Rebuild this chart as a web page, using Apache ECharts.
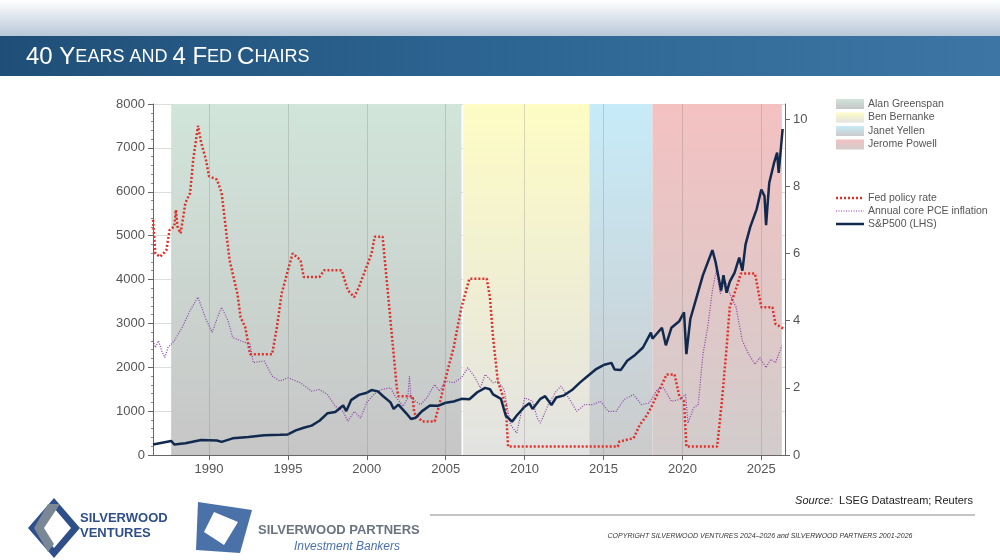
<!DOCTYPE html>
<html>
<head>
<meta charset="utf-8">
<script src="https://cdn.jsdelivr.net/npm/echarts@6/dist/echarts.min.js"></script>
<style>html,body{margin:0;padding:0;background:#fff}#main{width:1000px;height:560px}</style>
</head>
<body>
<div id="main"></div>
<script>
// 标普500（左轴）
const spx = [[1986.45,240],[1987.6,320],[1987.8,240],[1988.5,270],[1989.5,340],[1990.5,330],[1990.8,300],[1991.5,380],[1992.5,410],[1993.5,450],[1994.5,460],[1995.0,470],[1995.5,560],[1996.0,620],[1996.5,670],[1997.0,780],[1997.5,950],[1998.0,980],[1998.5,1130],[1998.7,1000],[1999.0,1250],[1999.5,1370],[2000.0,1420],[2000.3,1480],[2000.7,1450],[2001.0,1350],[2001.5,1200],[2001.7,1050],[2002.0,1150],[2002.5,950],[2002.8,820],[2003.1,850],[2003.5,1000],[2004.0,1130],[2004.5,1120],[2005.0,1190],[2005.5,1220],[2006.0,1280],[2006.5,1270],[2007.0,1430],[2007.5,1530],[2007.8,1500],[2008.0,1380],[2008.5,1280],[2008.8,900],[2009.2,760],[2009.5,900],[2010.0,1100],[2010.3,1180],[2010.5,1050],[2011.0,1280],[2011.3,1340],[2011.7,1140],[2012.0,1310],[2012.5,1360],[2013.0,1480],[2013.5,1650],[2014.0,1800],[2014.5,1950],[2015.0,2050],[2015.5,2100],[2015.7,1950],[2016.1,1940],[2016.5,2150],[2017.0,2280],[2017.5,2450],[2018.0,2790],[2018.1,2650],[2018.7,2900],[2018.95,2500],[2019.3,2900],[2019.8,3050],[2020.1,3250],[2020.25,2300],[2020.5,3100],[2020.9,3600],[2021.3,4100],[2021.9,4670],[2022.1,4400],[2022.45,3750],[2022.6,4100],[2022.8,3700],[2023.0,3950],[2023.3,4150],[2023.6,4500],[2023.8,4200],[2024.0,4800],[2024.3,5200],[2024.7,5600],[2025.0,6050],[2025.2,5900],[2025.3,5240],[2025.5,6200],[2025.8,6650],[2026.0,6890],[2026.1,6430],[2026.35,7430]]

// 联邦基金利率（右轴）
const fedRate = [[1986.45,7.0],[1986.6,6.0],[1986.9,5.9],[1987.3,6.1],[1987.5,6.7],[1987.8,6.8],[1987.9,7.3],[1988.0,6.8],[1988.2,6.6],[1988.5,7.5],[1988.8,7.8],[1989.0,8.8],[1989.3,9.8],[1989.5,9.3],[1989.8,8.8],[1990.0,8.3],[1990.5,8.2],[1990.8,7.8],[1991.0,7.0],[1991.3,5.8],[1991.8,4.8],[1992.0,4.1],[1992.3,3.8],[1992.6,3.0],[1994.0,3.0],[1994.3,3.8],[1994.6,4.8],[1995.0,5.5],[1995.3,6.0],[1995.8,5.8],[1996.0,5.3],[1997.0,5.3],[1997.3,5.5],[1998.4,5.5],[1998.8,4.9],[1999.2,4.7],[1999.5,5.0],[1999.9,5.5],[2000.3,6.0],[2000.5,6.5],[2001.0,6.5],[2001.2,5.5],[2001.5,4.0],[2001.9,2.0],[2002.0,1.75],[2002.9,1.75],[2003.0,1.25],[2003.5,1.0],[2004.3,1.0],[2004.6,1.5],[2005.0,2.3],[2005.5,3.2],[2006.0,4.4],[2006.5,5.25],[2007.6,5.25],[2007.8,4.7],[2008.0,3.5],[2008.3,2.2],[2008.8,1.5],[2008.95,0.25],[2015.9,0.25],[2016.0,0.4],[2016.9,0.5],[2017.3,0.9],[2017.7,1.15],[2018.0,1.4],[2018.5,1.9],[2019.0,2.4],[2019.5,2.4],[2019.8,1.75],[2020.1,1.6],[2020.25,0.25],[2022.2,0.25],[2022.5,1.6],[2022.8,3.2],[2023.0,4.4],[2023.5,5.1],[2023.7,5.4],[2024.6,5.4],[2024.8,4.9],[2025.0,4.4],[2025.7,4.4],[2025.9,3.9],[2026.45,3.75]]

// 核心PCE通胀（右轴）
const pce = [[1986.45,3.4],[1986.6,3.2],[1986.8,3.4],[1987.0,3.1],[1987.2,2.9],[1987.4,3.2],[1987.8,3.4],[1988.3,3.8],[1988.8,4.3],[1989.3,4.7],[1989.8,4.05],[1990.2,3.65],[1990.5,4.05],[1990.8,4.4],[1991.2,4.0],[1991.5,3.5],[1992.0,3.4],[1992.6,3.3],[1992.8,2.75],[1993.5,2.8],[1994.0,2.35],[1994.5,2.2],[1995.0,2.3],[1995.8,2.15],[1996.5,1.9],[1997.0,1.95],[1997.5,1.8],[1998.0,1.45],[1998.5,1.3],[1998.8,1.0],[1999.2,1.3],[1999.6,1.1],[2000.0,1.57],[2000.5,1.83],[2001.0,1.96],[2001.5,2.0],[2001.8,1.75],[2002.3,1.45],[2002.6,1.7],[2002.7,2.35],[2002.8,1.7],[2003.4,1.5],[2003.8,1.7],[2004.3,2.1],[2004.6,1.9],[2005.0,2.2],[2005.5,2.15],[2006.0,2.3],[2006.4,2.6],[2006.8,2.35],[2007.2,2.0],[2007.5,2.4],[2008.0,2.15],[2008.3,2.2],[2008.7,1.95],[2009.1,0.9],[2009.5,0.65],[2009.8,1.3],[2010.0,1.7],[2010.5,1.6],[2010.8,1.1],[2011.0,0.95],[2011.5,1.5],[2012.0,1.9],[2012.3,2.05],[2012.8,1.7],[2013.3,1.3],[2013.8,1.5],[2014.3,1.5],[2014.8,1.6],[2015.3,1.3],[2015.8,1.3],[2016.3,1.65],[2016.9,1.8],[2017.4,1.5],[2017.9,1.55],[2018.4,1.95],[2018.8,2.0],[2019.3,1.6],[2019.8,1.65],[2020.2,1.8],[2020.35,0.95],[2020.7,1.4],[2021.0,1.5],[2021.3,3.0],[2021.6,3.8],[2021.9,4.9],[2022.15,5.5],[2022.4,4.8],[2022.7,5.2],[2023.0,4.8],[2023.4,4.4],[2023.8,3.4],[2024.2,3.0],[2024.6,2.7],[2024.9,2.9],[2025.3,2.6],[2025.6,2.85],[2025.9,2.75],[2026.3,3.25]]

// 四任美联储主席任期
const chairs = [
  { name: 'Alan Greenspan', from: 1987.6, to: 2006.0, top: '#d1e5da', bottom: '#c6c6c6' },
  { name: 'Ben Bernanke', from: 2006.1, to: 2014.1, top: '#fefcc4', bottom: '#e2e2e2' },
  { name: 'Janet Yellen', from: 2014.1, to: 2018.1, top: '#c7ebf9', bottom: '#cbcbcb' },
  { name: 'Jerome Powell', from: 2018.1, to: 2026.3, top: '#f4c1c1', bottom: '#d2cccc' }
]

const grad = (a, b) => new echarts.graphic.LinearGradient(0, 0, 0, 1, [{ offset: 0, color: a }, { offset: 1, color: b }])
const years = [1990, 1995, 2000, 2005, 2010, 2015, 2020, 2025]
const RMAX = 8000 / 765.6

const chart = echarts.init(document.getElementById('main'))

const legendItems = []
chairs.forEach((c, i) => {
  legendItems.push({ type: 'rect', shape: { x: 836, y: 99 + i * 13.5, width: 28, height: 10 }, style: { fill: grad(c.top, c.bottom) } })
  legendItems.push({ type: 'text', style: { x: 868, y: 104 + i * 13.5, text: c.name, fill: '#555', font: '10.5px "Liberation Sans Narrow", Arial', verticalAlign: 'middle' } })
})
const lineLeg = [['Fed policy rate', '#e0302a', [2, 2], 2.5], ['Annual core PCE inflation', '#8a3fa8', [1, 1.5], 1.2], ['S&P500 (LHS)', '#12294f', null, 2.5]]
lineLeg.forEach((l, i) => {
  legendItems.push({ type: 'line', shape: { x1: 836, y1: 198 + i * 13, x2: 864, y2: 198 + i * 13 }, style: { stroke: l[1], lineWidth: l[3], lineDash: l[2] } })
  legendItems.push({ type: 'text', style: { x: 868, y: 198 + i * 13, text: l[0], fill: '#555', font: '10.5px "Liberation Sans Narrow", Arial', verticalAlign: 'middle' } })
})

const option = {
  animation: false,
  graphic: [
    { type: 'rect', shape: { x: 0, y: 0, width: 1000, height: 36 }, style: { fill: grad('#ffffff', '#b8c8d8') } },
    { type: 'rect', shape: { x: 0, y: 36, width: 1000, height: 40 }, style: { fill: new echarts.graphic.LinearGradient(0, 0, 1, 0, [{ offset: 0, color: '#1f4f78' }, { offset: 0.5, color: '#2d6592' }, { offset: 1, color: '#3d76a4' }]) } },
    { type: 'text', style: { x: 26, y: 57, text: '{a|40 Y}{b|EARS AND }{a|4 F}{b|ED }{a|C}{b|HAIRS}', verticalAlign: 'middle', rich: { a: { fill: '#fff', font: '24px Arial' }, b: { fill: '#fff', font: '18px Arial' } } } },
    ...legendItems,
    { type: 'text', style: { x: 973, y: 501, text: '{i|Source:}  LSEG Datastream; Reuters', align: 'right', verticalAlign: 'middle', fill: '#222', font: '11px "Liberation Sans Narrow", Arial', rich: { i: { font: 'italic 11px "Liberation Sans Narrow", Arial', fill: '#222' } } } },
    { type: 'line', shape: { x1: 430, y1: 515, x2: 975, y2: 515 }, style: { stroke: '#888', lineWidth: 1 } },
    { type: 'text', style: { x: 760, y: 536, text: 'COPYRIGHT SILVERWOOD VENTURES 2024–2026 and SILVERWOOD PARTNERS 2001-2026', align: 'center', verticalAlign: 'middle', fill: '#333', font: 'italic 7px "Liberation Sans Narrow", Arial' } },
    // 左侧标志
    { type: 'polygon', shape: { points: [[54, 498], [80, 528], [54, 558], [28, 528]] }, style: { fill: '#2f4f8a' } },
    { type: 'polygon', shape: { points: [[54, 508], [71, 528], [54, 548], [37, 528]] }, style: { fill: '#fff' } },
    { type: 'polygon', shape: { points: [[48, 504], [60, 504], [44, 528], [54, 544], [48, 552], [34, 528]] }, style: { fill: '#7a8896' } },
    { type: 'text', style: { x: 80, y: 526, text: 'SILVERWOOD\nVENTURES', fill: '#2f4f8a', font: 'bold 13px "Liberation Sans Narrow", Arial', lineHeight: 15, verticalAlign: 'middle' } },
    { type: 'polygon', shape: { points: [[198, 502], [252, 510], [240, 553], [196, 550]] }, style: { fill: '#4b72a8' } },
    { type: 'polygon', shape: { points: [[214, 512], [238, 522], [224, 545], [204, 532]] }, style: { fill: '#fff' } },
    { type: 'text', style: { x: 258, y: 530, text: 'SILVERWOOD PARTNERS', fill: '#6a7480', font: 'bold 13px "Liberation Sans Narrow", Arial', verticalAlign: 'middle' } },
    { type: 'text', style: { x: 400, y: 547, text: 'Investment Bankers', align: 'right', fill: '#4b72a8', font: 'italic 12px "Liberation Sans Narrow", Arial', verticalAlign: 'middle' } }
  ],
  grid: { left: 153, right: 215, top: 104, bottom: 105 },
  xAxis: {
    type: 'value',
    min: 1986.45,
    max: 2026.5,
    axisLine: { show: true, lineStyle: { color: '#666' } },
    axisTick: { show: true, customValues: years, lineStyle: { color: '#666' } },
    axisLabel: { customValues: years, color: '#555', fontSize: 13, fontFamily: 'Arial', formatter: v => String(v) },
    splitLine: { show: false }
  },
  yAxis: [
    {
      type: 'value', min: 0, max: 8000, interval: 1000,
      axisLine: { show: true, lineStyle: { color: '#666' } },
      axisTick: { show: true, lineStyle: { color: '#666' } },
      minorTick: { show: true, splitNumber: 5, length: 2, lineStyle: { color: '#888' } },
      axisLabel: { color: '#555', fontSize: 13, fontFamily: 'Arial', formatter: v => String(v) },
      splitLine: { show: true, lineStyle: { color: 'rgba(120,120,120,0.25)' } }
    },
    {
      type: 'value', min: 0, max: RMAX, interval: 2,
      axisLine: { show: true, lineStyle: { color: '#666' } },
      axisTick: { show: true, lineStyle: { color: '#666' } },
      axisLabel: { color: '#555', fontSize: 13, fontFamily: 'Arial', showMaxLabel: false },
      splitLine: { show: false }
    }
  ],
  series: [
    {
      type: 'line', data: [], silent: true,
      markArea: {
        silent: true,
        data: chairs.map(c => [{ xAxis: c.from, itemStyle: { color: grad(c.top, c.bottom) } }, { xAxis: c.to }])
      },
      markLine: {
        silent: true, symbol: 'none', label: { show: false },
        lineStyle: { color: 'rgba(110,110,110,0.25)', type: 'solid', width: 1 },
        data: years.map(y => ({ xAxis: y }))
      },
      z: 1
    },
    { name: 'Fed policy rate', type: 'line', yAxisIndex: 1, data: fedRate, symbol: 'none', lineStyle: { color: '#e0302a', width: 2.5, type: [2, 2] }, z: 3 },
    { name: 'Annual core PCE inflation', type: 'line', yAxisIndex: 1, data: pce, symbol: 'none', lineStyle: { color: '#8a3fa8', width: 1.2, type: [1, 1.5] }, z: 3 },
    { name: 'S&P500 (LHS)', type: 'line', data: spx, symbol: 'none', lineStyle: { color: '#12294f', width: 2.5 }, z: 4 }
  ]
}

option && chart.setOption(option)
</script>
</body>
</html>
